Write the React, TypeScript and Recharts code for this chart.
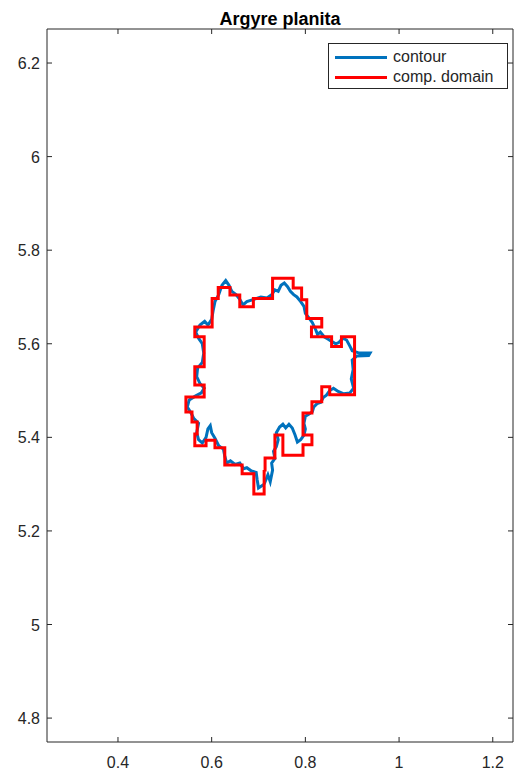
import { ComposedChart, Line, XAxis, YAxis, Legend, ReferenceArea } from 'recharts';

// Axis ranges / ticks (axis equal, box on)
const X_DOMAIN: [number, number] = [0.2485, 1.2432];
const Y_DOMAIN: [number, number] = [4.7489, 6.2727];
const X_TICKS = [0.4, 0.6, 0.8, 1, 1.2];
const Y_TICKS = [4.8, 5, 5.2, 5.4, 5.6, 5.8, 6, 6.2];
const SERIES_ORDER = ['contour', 'comp. domain'];

// Blue contour of the planitia (traced by eye)
const CONTOUR_PTS: [number, number][] = [
  [0.712, 5.3], [0.7, 5.292], [0.697, 5.31], [0.695, 5.325], [0.685, 5.328], [0.675, 5.335],
  [0.668, 5.333], [0.66, 5.345], [0.65, 5.342], [0.64, 5.35], [0.632, 5.345], [0.628, 5.36],
  [0.625, 5.375], [0.615, 5.382], [0.607, 5.398], [0.6, 5.41], [0.597, 5.425], [0.592, 5.418],
  [0.588, 5.4], [0.58, 5.388], [0.572, 5.395], [0.568, 5.41], [0.572, 5.43], [0.562, 5.44],
  [0.556, 5.452], [0.548, 5.465], [0.552, 5.48], [0.565, 5.488], [0.578, 5.495], [0.584, 5.505],
  [0.575, 5.515], [0.568, 5.53], [0.57, 5.548], [0.58, 5.56], [0.583, 5.58], [0.58, 5.6],
  [0.572, 5.612], [0.566, 5.625], [0.575, 5.64], [0.585, 5.648], [0.592, 5.64], [0.6, 5.652],
  [0.603, 5.67], [0.607, 5.69], [0.615, 5.705], [0.622, 5.725], [0.63, 5.735], [0.637, 5.725],
  [0.643, 5.712], [0.652, 5.705], [0.66, 5.695], [0.667, 5.683], [0.675, 5.69], [0.69, 5.695],
  [0.705, 5.7], [0.718, 5.698], [0.728, 5.705], [0.735, 5.715], [0.742, 5.712], [0.748, 5.725],
  [0.755, 5.73], [0.762, 5.722], [0.768, 5.712], [0.775, 5.705], [0.782, 5.7], [0.79, 5.69],
  [0.797, 5.68], [0.8, 5.665], [0.808, 5.655], [0.815, 5.645], [0.822, 5.63], [0.826, 5.62],
  [0.832, 5.625], [0.84, 5.615], [0.848, 5.61], [0.856, 5.605], [0.865, 5.6], [0.872, 5.603],
  [0.88, 5.612], [0.888, 5.608], [0.895, 5.595], [0.9, 5.585], [0.915, 5.58], [0.938, 5.58],
  [0.935, 5.575], [0.91, 5.574], [0.9, 5.565], [0.902, 5.545], [0.898, 5.525], [0.903, 5.505],
  [0.895, 5.495], [0.882, 5.493], [0.87, 5.498], [0.86, 5.505], [0.852, 5.5], [0.845, 5.49],
  [0.838, 5.485], [0.833, 5.475], [0.825, 5.472], [0.818, 5.465], [0.815, 5.455], [0.808, 5.45],
  [0.8, 5.445], [0.797, 5.43], [0.8, 5.418], [0.797, 5.405], [0.79, 5.395], [0.783, 5.39],
  [0.778, 5.405], [0.772, 5.42], [0.765, 5.428], [0.758, 5.42], [0.752, 5.428], [0.745, 5.422],
  [0.738, 5.41], [0.742, 5.395], [0.738, 5.38], [0.732, 5.37], [0.735, 5.355], [0.728, 5.345],
  [0.73, 5.33], [0.725, 5.305], [0.72, 5.32], [0.716, 5.31], [0.712, 5.3],
];

// Red computational domain (staircase on the grid)
const DOMAIN_PTS: [number, number][] = [
  [0.712, 5.33], [0.712, 5.279], [0.69, 5.279], [0.69, 5.322], [0.665, 5.322], [0.665, 5.341],
  [0.628, 5.341], [0.628, 5.378], [0.607, 5.378], [0.607, 5.394], [0.588, 5.394], [0.588, 5.382],
  [0.564, 5.382], [0.564, 5.407], [0.569, 5.407], [0.569, 5.433], [0.558, 5.433], [0.558, 5.454],
  [0.545, 5.454], [0.545, 5.486], [0.584, 5.486], [0.584, 5.512], [0.564, 5.512], [0.564, 5.551],
  [0.584, 5.551], [0.584, 5.615], [0.564, 5.615], [0.564, 5.636], [0.601, 5.636], [0.601, 5.697],
  [0.614, 5.697], [0.614, 5.72], [0.639, 5.72], [0.639, 5.704], [0.66, 5.704], [0.66, 5.679],
  [0.689, 5.679], [0.689, 5.697], [0.73, 5.697], [0.73, 5.74], [0.774, 5.74], [0.774, 5.719],
  [0.792, 5.719], [0.792, 5.694], [0.803, 5.694], [0.803, 5.654], [0.835, 5.654], [0.835, 5.636],
  [0.813, 5.636], [0.813, 5.615], [0.856, 5.615], [0.856, 5.594], [0.877, 5.594], [0.877, 5.615],
  [0.905, 5.615], [0.905, 5.491], [0.852, 5.491], [0.852, 5.508], [0.835, 5.508], [0.835, 5.476],
  [0.814, 5.476], [0.814, 5.452], [0.795, 5.452], [0.795, 5.405], [0.814, 5.405], [0.814, 5.384],
  [0.795, 5.384], [0.795, 5.362], [0.752, 5.362], [0.752, 5.405], [0.735, 5.405], [0.735, 5.356],
  [0.714, 5.356], [0.714, 5.33], [0.712, 5.33],
];

const contourData = CONTOUR_PTS.map(([x, y]) => ({ x, y }));
const domainData = DOMAIN_PTS.map(([x, y]) => ({ x, y }));

const W = 515;
const H = 772;
const PLOT = { left: 47, right: 513, top: 29, bottom: 742 };
const TICK_LEN = 5;
const AXIS_COLOR = '#262626';
const FONT = '"Liberation Sans", Arial, Helvetica, sans-serif';

/** Bottom tick label plus inward tick marks on bottom and top edges. */
function XTick({ x, payload }: any) {
  return (
    <g>
      <line x1={x} x2={x} y1={PLOT.bottom} y2={PLOT.bottom - TICK_LEN} stroke={AXIS_COLOR} />
      <line x1={x} x2={x} y1={PLOT.top} y2={PLOT.top + TICK_LEN} stroke={AXIS_COLOR} />
      <text x={x} y={768} textAnchor="middle" fontSize={16} fontFamily={FONT} fill={AXIS_COLOR}>
        {payload.value}
      </text>
    </g>
  );
}

/** Left tick label plus inward tick marks on left and right edges. */
function YTick({ y, payload }: any) {
  return (
    <g>
      <line x1={PLOT.left} x2={PLOT.left + TICK_LEN} y1={y} y2={y} stroke={AXIS_COLOR} />
      <line x1={PLOT.right} x2={PLOT.right - TICK_LEN} y1={y} y2={y} stroke={AXIS_COLOR} />
      <text x={40} y={y + 6} textAnchor="end" fontSize={16} fontFamily={FONT} fill={AXIS_COLOR}>
        {payload.value}
      </text>
    </g>
  );
}

// Recharts sorts legend items by name; keep plotting order instead
function LegendBox({ payload }: any) {
  const items = [...(payload || [])].sort(
    (a: any, b: any) => SERIES_ORDER.indexOf(a.value) - SERIES_ORDER.indexOf(b.value)
  );
  return (
    <div
      style={{
        width: 180,
        height: 46,
        boxSizing: 'border-box',
        border: `1px solid ${AXIS_COLOR}`,
        background: '#fff',
        fontFamily: FONT,
        fontSize: 16,
        color: AXIS_COLOR,
        paddingTop: 3,
      }}
    >
      {items.map((item: any) => (
        <div key={item.value} style={{ display: 'flex', alignItems: 'center', height: 20 }}>
          <span
            style={{
              display: 'inline-block',
              width: 52,
              height: 3,
              background: item.color,
              marginLeft: 6,
              marginRight: 6,
            }}
          />
          {item.value}
        </div>
      ))}
    </div>
  );
}

export default function App() {
  return (
    <div style={{ position: 'absolute', left: 0, top: 0, width: W, height: H, background: '#fff' }}>
      <div
        style={{
          position: 'absolute',
          left: PLOT.left,
          width: PLOT.right - PLOT.left,
          top: 9,
          textAlign: 'center',
          fontFamily: FONT,
          fontWeight: 'bold',
          fontSize: 18,
          lineHeight: '20px',
          color: '#000',
          zIndex: 1,
        }}
      >
        Argyre planita
      </div>
      <ComposedChart
        width={W}
        height={H}
        margin={{ top: PLOT.top, right: W - PLOT.right, bottom: 0, left: 0 }}
      >
        <XAxis
          type="number"
          dataKey="x"
          domain={X_DOMAIN}
          ticks={X_TICKS}
          allowDataOverflow
          height={H - PLOT.bottom}
          axisLine={false}
          tickLine={false}
          tick={<XTick />}
          interval={0}
        />
        <YAxis
          type="number"
          dataKey="y"
          domain={Y_DOMAIN}
          ticks={Y_TICKS}
          allowDataOverflow
          width={PLOT.left}
          axisLine={false}
          tickLine={false}
          tick={<YTick />}
          interval={0}
        />
        <ReferenceArea
          x1={X_DOMAIN[0]}
          x2={X_DOMAIN[1]}
          y1={Y_DOMAIN[0]}
          y2={Y_DOMAIN[1]}
          fill="none"
          stroke={AXIS_COLOR}
          strokeWidth={1}
          ifOverflow="visible"
        />
        <Line
          data={contourData}
          dataKey="y"
          name="contour"
          type="linear"
          stroke="#0072BD"
          strokeWidth={3}
          dot={false}
          activeDot={false}
          isAnimationActive={false}
        />
        <Line
          data={domainData}
          dataKey="y"
          name="comp. domain"
          type="linear"
          stroke="#FF0000"
          strokeWidth={3}
          dot={false}
          activeDot={false}
          isAnimationActive={false}
        />
        <Legend
          layout="vertical"
          align="center"
          verticalAlign="middle"
          content={<LegendBox />}
          wrapperStyle={{ left: 328, top: 43, width: 180, height: 46 }}
        />
      </ComposedChart>
    </div>
  );
}
